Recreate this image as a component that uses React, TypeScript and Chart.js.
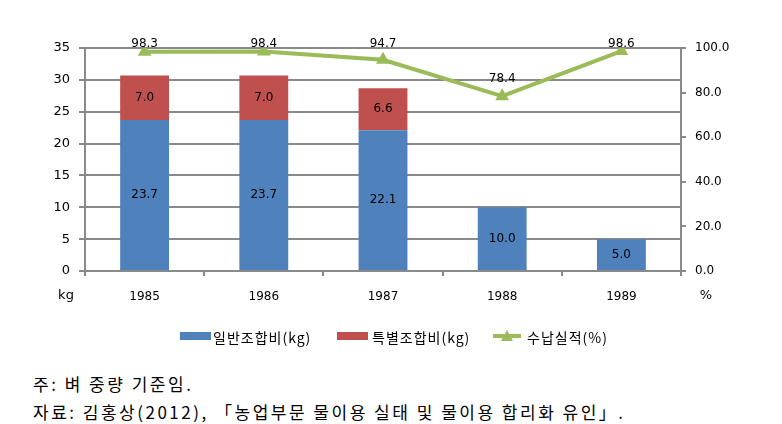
import React, { useEffect, useRef } from "react";
import { Chart, registerables } from "chart.js";

Chart.register(...registerables);

const categories = ["1985", "1986", "1987", "1988", "1989"];
const generalKg = [23.7, 23.7, 22.1, 10.0, 5.0];
const specialKg = [7.0, 7.0, 6.6, null, null];
const deliveryPct = [98.3, 98.4, 94.7, 78.4, 98.6];
const leftTicks = [0, 5, 10, 15, 20, 25, 30, 35];
const rightTicks = [0, 20, 40, 60, 80, 100];

const BLUE = "#4F81BD";
const RED = "#C0504D";
const GREEN = "#9BBB59";
const GRID = "#898989";
const NUM_FONT = "'DejaVu Sans', Verdana, sans-serif";
const KR_FONT = "'Noto Sans CJK KR', sans-serif";

const labelsPlugin = {
  id: "customLabels",
  afterDatasetsDraw(chart: any) {
    const ctx = chart.ctx;
    ctx.save();
    ctx.fillStyle = "#000";
    ctx.font = `12px ${NUM_FONT}`;
    ctx.textAlign = "center";
    ctx.textBaseline = "middle";
    chart.data.datasets.forEach((ds: any, di: number) => {
      const meta = chart.getDatasetMeta(di);
      meta.data.forEach((el: any, i: number) => {
        const v = ds.data[i];
        if (v === null || v === undefined) return;
        if (ds.type === "line") {
          ctx.fillText(v.toFixed(1), el.x, Math.max(el.y - 17, 44));
        } else {
          const mid = (el.y + el.base) / 2;
          ctx.fillText(v.toFixed(1), el.x, mid);
        }
      });
    });
    // axis unit labels
    ctx.font = `13px ${NUM_FONT}`;
    ctx.fillText("kg", 66, 296);
    ctx.fillText("%", 706, 296);
    // legend
    const ly = 337;
    ctx.textAlign = "left";
    ctx.font = `14px ${KR_FONT}`;
    try {
      (ctx as any).letterSpacing = "1px";
    } catch (e) {}
    ctx.fillStyle = BLUE;
    ctx.fillRect(180, ly - 5, 31, 8);
    ctx.fillStyle = "#000";
    ctx.fillText("일반조합비(kg)", 213, ly + 1);
    ctx.fillStyle = RED;
    ctx.fillRect(337, ly - 5, 31, 8);
    ctx.fillStyle = "#000";
    ctx.fillText("특별조합비(kg)", 372, ly + 1);
    ctx.strokeStyle = GREEN;
    ctx.lineWidth = 4;
    ctx.beginPath();
    ctx.moveTo(493, ly - 1);
    ctx.lineTo(521, ly - 1);
    ctx.stroke();
    ctx.fillStyle = GREEN;
    ctx.beginPath();
    ctx.moveTo(507, ly - 7);
    ctx.lineTo(513, ly + 4);
    ctx.lineTo(501, ly + 4);
    ctx.closePath();
    ctx.fill();
    ctx.fillStyle = "#000";
    ctx.fillText("수납실적(%)", 527, ly + 1);
    ctx.restore();
  },
};

export default function App() {
  const ref = useRef<HTMLCanvasElement>(null);
  useEffect(() => {
    if (!ref.current) return;
    const chart = new Chart(ref.current, {
      data: {
        labels: categories,
        datasets: [
          {
            type: "line",
            label: "수납실적(%)",
            data: deliveryPct,
            yAxisID: "y1",
            borderColor: GREEN,
            backgroundColor: GREEN,
            borderWidth: 4,
            pointStyle: "triangle",
            pointRadius: 8,
            pointBorderWidth: 0,
            tension: 0,
            order: 0,
          },
          {
            type: "bar",
            label: "일반조합비(kg)",
            data: generalKg,
            backgroundColor: BLUE,
            yAxisID: "y",
            stack: "s",
            order: 1,
            categoryPercentage: 1,
            barPercentage: 0.41,
          },
          {
            type: "bar",
            label: "특별조합비(kg)",
            data: specialKg,
            backgroundColor: RED,
            yAxisID: "y",
            stack: "s",
            order: 1,
            categoryPercentage: 1,
            barPercentage: 0.41,
          },
        ] as any,
      },
      options: {
        animation: false,
        responsive: false,
        layout: { padding: { top: 48, left: 0, right: 0, bottom: 0 } },
        plugins: { legend: { display: false }, tooltip: { enabled: false } },
        scales: {
          x: {
            stacked: true,
            offset: true,
            grid: {
              offset: true,
              drawOnChartArea: false,
              drawTicks: true,
              tickLength: 5,
              color: GRID,
              lineWidth: 2,
            },
            border: { color: GRID, width: 2 },
            ticks: {
              font: { family: NUM_FONT, size: 12 },
              color: "#000",
              padding: 14,
            },
            afterFit: (s: any) => {
              s.height = 84;
            },
          },
          y: {
            position: "left",
            stacked: true,
            min: 0,
            max: 35,
            afterBuildTicks: (s: any) => {
              s.ticks = leftTicks.map((v) => ({ value: v }));
            },
            grid: { color: GRID, lineWidth: 2, tickLength: 6 },
            border: { color: GRID, width: 2 },
            ticks: {
              font: { family: NUM_FONT, size: 13 },
              color: "#000",
              padding: 9,
            },
            afterFit: (s: any) => {
              s.width = 85;
            },
          },
          y1: {
            position: "right",
            min: 0,
            max: 100,
            afterBuildTicks: (s: any) => {
              s.ticks = rightTicks.map((v) => ({ value: v }));
            },
            grid: {
              drawOnChartArea: false,
              color: GRID,
              lineWidth: 2,
              tickLength: 5,
            },
            border: { color: GRID, width: 2 },
            ticks: {
              font: { family: NUM_FONT, size: 12 },
              color: "#000",
              padding: 9,
              callback: (v: any) => Number(v).toFixed(1),
            },
            afterFit: (s: any) => {
              s.width = 101;
            },
          },
        },
      },
      plugins: [labelsPlugin],
    });
    return () => chart.destroy();
  }, []);

  return (
    <div style={{ position: "absolute", left: 0, top: 0, width: 782, height: 424, background: "#fff" }}>
      <canvas ref={ref} width={782} height={355} style={{ position: "absolute", left: 0, top: 0 }} />
      <div
        style={{
          position: "absolute",
          left: 33,
          top: 371,
          fontFamily: "'Noto Sans CJK KR', serif",
          fontSize: 17,
          letterSpacing: "2.5px",
          lineHeight: "28px",
          color: "#000",
          whiteSpace: "nowrap",
        }}
      >
        <div style={{ marginTop: -1 }}>주: 벼 중량 기준임.</div>
        <div>자료: 김홍상(2012), 「농업부문 물이용 실태 및 물이용 합리화 유인」.</div>
      </div>
    </div>
  );
}
